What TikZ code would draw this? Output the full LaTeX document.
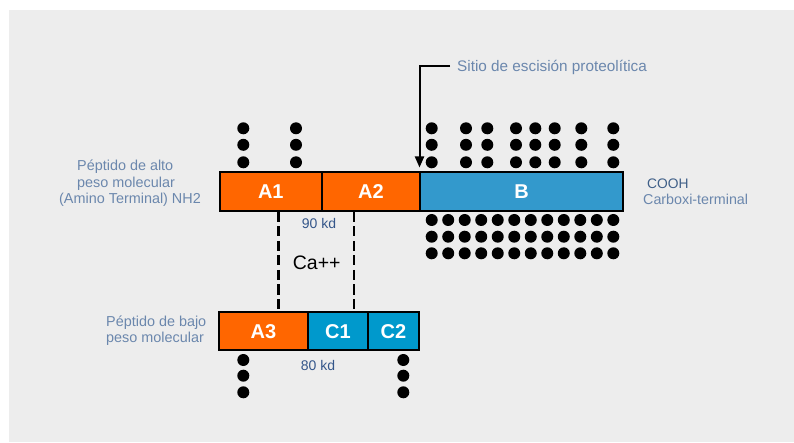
\documentclass[tikz,border=0pt]{standalone}
\usepackage{fontspec}
\setmainfont{Liberation Sans}
\usetikzlibrary{arrows.meta}

\definecolor{bggray}{HTML}{EDEDED}
\definecolor{segorange}{HTML}{FF6600}
\definecolor{segblueB}{HTML}{3399CC}
\definecolor{segblueC}{HTML}{0099CC}
\definecolor{labelslate}{HTML}{6B87AD}
\definecolor{kdblue}{HTML}{34568A}
\definecolor{coohblue}{HTML}{3F5F88}

\tikzset{
  segment/.style={draw=black, line width=2pt, inner sep=0pt, text=white,
    font=\fontsize{20}{20}\selectfont\bfseries, text height=14.3pt, text depth=0pt},
  toprow/.style={segment, minimum height=39pt},
  lowrow/.style={segment, minimum height=38pt},
  sidelabel/.style={inner sep=0pt, anchor=base west, text=labelslate,
    font=\fontsize{14.4}{16}\selectfont},
  kdlabel/.style={inner sep=0pt, anchor=base, text=kdblue,
    font=\fontsize{14}{16}\selectfont},
  linker/.style={line width=2.7pt, dash pattern=on 10pt off 4.5pt},
  cutarrow/.style={line width=2pt, -{Triangle[length=11pt,width=9pt]}},
  resdot/.style={fill=black}
}

\begin{document}
\begin{tikzpicture}[x=1pt, y=-1pt]
  % canvas and background panel
  \useasboundingbox (0,0) rectangle (794,443);
  \fill[bggray] (9,10) rectangle (794,442);

  % high molecular weight chain: A1 A2 B
  \node[toprow, fill=segorange, minimum width=101.7pt] (a1) at (270.8,191.5) {A1};
  \node[toprow, fill=segorange, minimum width=98.3pt] (a2) at (370.85,191.5) {A2};
  \node[toprow, fill=segblueB, minimum width=203pt] (b) at (521.5,191.5) {B};

  % low molecular weight chain: A3 C1 C2
  \node[lowrow, fill=segorange, minimum width=89pt] (a3) at (263.5,331) {A3};
  \node[lowrow, fill=segblueC, minimum width=59.7pt] (c1) at (337.85,331) {C1};
  \node[lowrow, fill=segblueC, minimum width=51.3pt] (c2) at (393.35,331) {C2};

  % calcium bridge between the chains
  \coordinate (dl) at (278.3,0);
  \coordinate (dr) at (354,0);
  \draw[linker] (a1.south -| dl) -- (a3.north -| dl);
  \draw[linker] (a2.south -| dr) -- (c1.north -| dr);
  \node[inner sep=0pt, anchor=base, font=\fontsize{19.5}{20}\selectfont] (ca) at (316.7,270) {Ca++};
  \node[kdlabel] (kd90) at (319,228.3) {90 kd};
  \node[kdlabel] (kd80) at (318,370) {80 kd};

  % side labels
  \node[sidelabel] (lt1) at (77,170.7) {Péptido de alto};
  \node[sidelabel] (lt2) at (77,187.3) {peso molecular};
  \node[sidelabel] (lt3) at (59,204) {(Amino Terminal) NH2};
  \node[sidelabel] (lb1) at (106,326.7) {Péptido de bajo};
  \node[sidelabel] (lb2) at (106,342) {peso molecular};
  \node[sidelabel, text=coohblue, font=\fontsize{13.8}{16}\selectfont] (cooh) at (647,189) {COOH};
  \node[sidelabel, font=\fontsize{14.3}{16}\selectfont] (carb) at (643,205) {Carboxi-terminal};

  % proteolytic cleavage site
  \node[sidelabel, font=\fontsize{15.3}{17}\selectfont] (sitio) at (457,71.7) {Sitio de escisión proteolítica};
  \coordinate (bend) at (419.5,66);
  \draw[cutarrow] ([xshift=-7pt]bend -| sitio.west) -- (bend) -- ([yshift=3.5pt]bend |- b.north);

  % glycosylation residues
  \foreach \x in {243.3,296}
    \foreach \y in {128.3,144.8,162.3}
      \fill[resdot] (\x,\y) circle (6pt);
  \foreach \x in {431.7,466,487.3,516,535.3,554.7,581.3,613.3}
    \foreach \y in {128.3,144.8,162.3}
      \fill[resdot] (\x,\y) circle (6pt);
  \foreach \i in {0,...,11}
    \foreach \y in {220,236.7,253.3}
      \fill[resdot] (431.7+16.51*\i,\y) circle (6pt);
  \foreach \x in {243.3,403.3}
    \foreach \y in {360,375.7,392.3}
      \fill[resdot] (\x,\y) circle (6pt);
\end{tikzpicture}
\end{document}
